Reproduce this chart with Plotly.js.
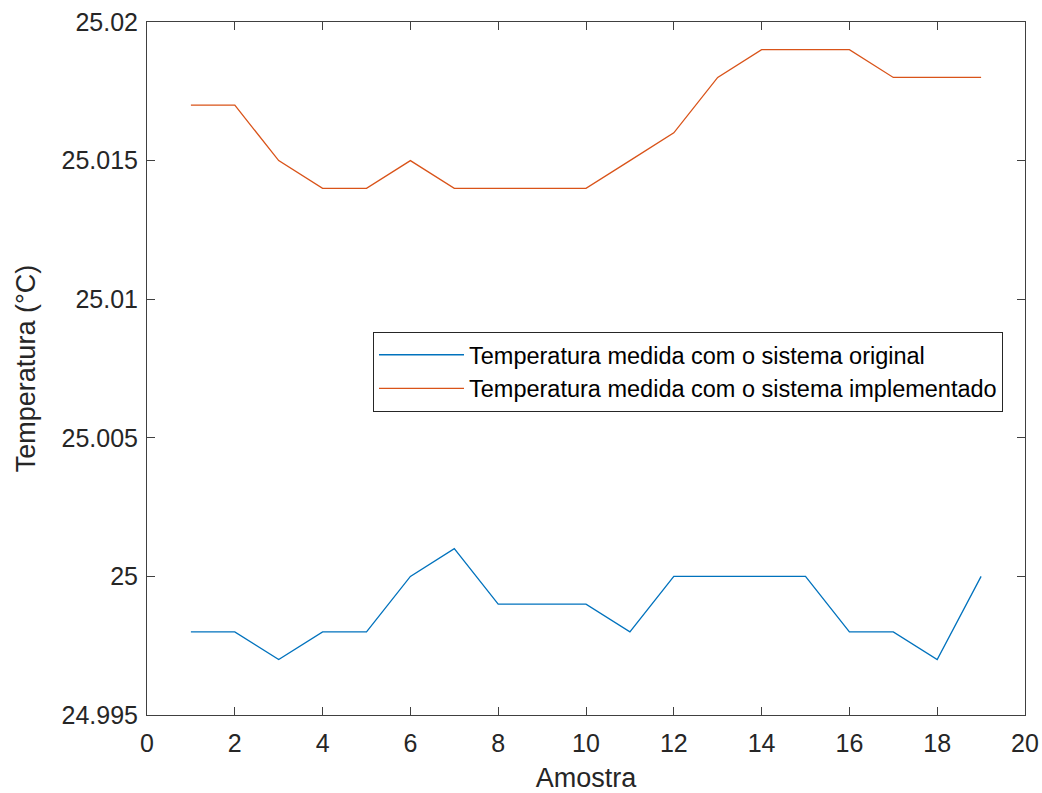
<!DOCTYPE html>
<html>
<head>
<meta charset="utf-8">
<script src="https://cdn.plot.ly/plotly-3.0.1.min.js"></script>
<style>html,body{margin:0;padding:0;background:#fff;}#chart{width:1042px;height:793px;}</style>
</head>
<body>
<div id="chart"></div>
<script>
const samples = [1,2,3,4,5,6,7,8,9,10,11,12,13,14,15,16,17,18,19];
const original = [24.998,24.998,24.997,24.998,24.998,25.000,25.001,24.999,24.999,24.999,24.998,25.000,25.000,25.000,25.000,24.998,24.998,24.997,25.000];
const implemented = [25.017,25.017,25.015,25.014,25.014,25.015,25.014,25.014,25.014,25.014,25.015,25.016,25.018,25.019,25.019,25.019,25.018,25.018,25.018];
const seriesNames = ['Temperatura medida com o sistema original','Temperatura medida com o sistema implementado'];
const xTicks = [0,2,4,6,8,10,12,14,16,18,20];
const yTicks = [24.995,25,25.005,25.01,25.015,25.02];
const yTickText = ['24.995','25','25.005','25.01','25.015','25.02'];

const font = '"Liberation Sans", Arial, sans-serif';
const axisCol = '#404040';
const traces = [
  {x: samples, y: original, name: seriesNames[0], mode: 'lines', line: {color: '#0072BD', width: 1.3}},
  {x: samples, y: implemented, name: seriesNames[1], mode: 'lines', line: {color: '#D95319', width: 1.3}}
];
const axisCommon = {
  showgrid: false, zeroline: false, showline: true, linecolor: axisCol, linewidth: 1,
  mirror: 'allticks', ticks: 'inside', ticklen: 8, tickcolor: axisCol, tickwidth: 1,
  tickfont: {family: font, size: 25, color: '#262626'}
};
const layout = {
  width: 1042, height: 793,
  margin: {l: 147, r: 17, t: 22, b: 78},
  paper_bgcolor: '#fff', plot_bgcolor: '#fff',
  showlegend: true,
  xaxis: Object.assign({}, axisCommon, {
    range: [0, 20], tickvals: xTicks, ticktext: xTicks.map(String),
    ticklabelstandoff: 6,
    title: {text: 'Amostra', font: {family: font, size: 27, color: '#262626'}, standoff: 14}
  }),
  yaxis: Object.assign({}, axisCommon, {
    range: [24.995, 25.02], tickvals: yTicks, ticktext: yTickText,
    ticklabelstandoff: 3,
    title: {text: 'Temperatura (°C)', font: {family: font, size: 27, color: '#262626'}, standoff: 18}
  }),
  legend: {
    x: 0.2574, y: 0.5527, xanchor: 'left', yanchor: 'top',
    bgcolor: '#fff', bordercolor: '#262626', borderwidth: 1,
    font: {family: font, size: 23.5, color: '#000'},
    itemwidth: 85, tracegroupgap: 0
  }
};
Plotly.newPlot('chart', traces, layout, {displayModeBar: false, staticPlot: true});
</script>
</body>
</html>
